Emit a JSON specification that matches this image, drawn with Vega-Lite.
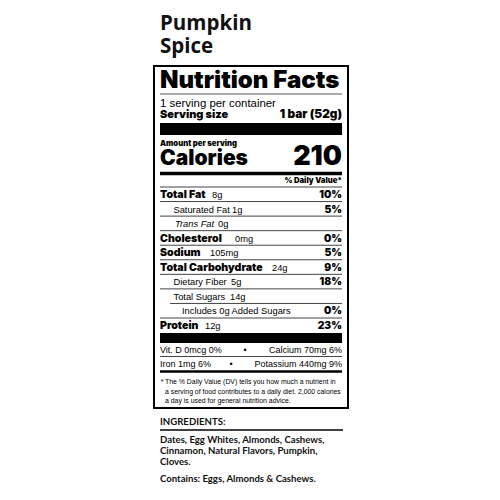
{
  "$schema": "https://vega.github.io/schema/vega-lite/v6.json",
  "width": 194,
  "height": 342,
  "autosize": {"type": "none"},
  "padding": {"left": 154, "top": 66, "right": 152, "bottom": 92},
  "background": "white",
  "view": {"stroke": "#000", "strokeWidth": 2},
  "datasets": {
    "label": [
      {"line": -1, "part": "product", "text": "Pumpkin"},
      {"line": 0, "part": "product", "text": "Spice"},
      {"line": 1, "part": "heading", "text": "Nutrition Facts"},
      {"line": 2, "part": "servings", "text": "1 serving per container"},
      {"line": 3, "part": "size", "text": "Serving size", "value": "1 bar (52g)"},
      {"line": 4, "part": "amountper", "text": "Amount per serving"},
      {"line": 5, "part": "calories", "text": "Calories", "value": "210"},
      {"line": 6, "part": "dvhead", "value": "% Daily Value*"},
      {"line": 17, "part": "vitamin", "text": "Vit. D 0mcg 0%", "value": "Calcium 70mg 6%"},
      {"line": 18, "part": "vitamin", "text": "Iron 1mg 6%", "value": "Potassium 440mg 9%"},
      {"line": 19, "part": "note", "marker": "*", "text": "The % Daily Value (DV) tells you how much a nutrient in"},
      {"line": 20, "part": "note", "text": "a serving of food contributes to a daily diet. 2,000 calories"},
      {"line": 21, "part": "note", "text": "a day is used for general nutrition advice."},
      {"line": 22, "part": "ingredientshead", "text": "INGREDIENTS:"},
      {"line": 23, "part": "ingredients", "text": "Dates, Egg Whites, Almonds, Cashews,"},
      {"line": 24, "part": "ingredients", "text": "Cinnamon, Natural Flavors, Pumpkin,"},
      {"line": 25, "part": "ingredients", "text": "Cloves."},
      {"line": 26, "part": "ingredients", "text": "Contains: Eggs, Almonds & Cashews."}
    ],
    "nutrients": [
      {"line": 7, "name": "Total Fat", "amount": "8g", "dv": "10%", "level": 0},
      {"line": 8, "name": "Saturated Fat", "amount": "1g", "dv": "5%", "level": 1},
      {"line": 9, "name": "Trans Fat", "amount": "0g", "dv": "", "level": 1},
      {"line": 10, "name": "Cholesterol", "amount": "0mg", "dv": "0%", "level": 0},
      {"line": 11, "name": "Sodium", "amount": "105mg", "dv": "5%", "level": 0},
      {"line": 12, "name": "Total Carbohydrate", "amount": "24g", "dv": "9%", "level": 0},
      {"line": 13, "name": "Dietary Fiber", "amount": "5g", "dv": "18%", "level": 1},
      {"line": 14, "name": "Total Sugars", "amount": "14g", "dv": "", "level": 1},
      {"line": 15, "name": "Includes 0g Added Sugars", "amount": "", "dv": "0%", "level": 2},
      {"line": 16, "name": "Protein", "amount": "12g", "dv": "23%", "level": 0}
    ]
  },
  "encoding": {
    "y": {
      "field": "line",
      "type": "quantitative",
      "axis": null,
      "scale": {
        "zero": false,
        "nice": false,
        "domain": [-1, 0, 1, 2, 3, 4, 5, 6, 7, 16, 17, 18, 19, 21, 22, 23, 25, 26],
        "range": [-36, -13, 22, 41, 52, 80, 99, 117, 132, 263, 287, 301, 318, 337, 359, 377, 399, 416]
      }
    }
  },
  "layer": [
    {
      "data": {"name": "label"},
      "transform": [{"filter": "datum.part == 'product'"}],
      "mark": {"type": "text", "font": "Open Sans", "fontWeight": 700, "fontSize": 20.5, "align": "left", "baseline": "alphabetic", "color": "#111"},
      "encoding": {
        "x": {"datum": 0, "type": "quantitative", "axis": null, "scale": {"domain": [0, 1], "range": [6, 188]}},
        "text": {"field": "text"}
      }
    },
    {
      "data": {"name": "label"},
      "transform": [{"filter": "datum.part == 'heading'"}],
      "mark": {"type": "text", "font": "Inter", "fontWeight": 900, "fontSize": 24, "align": "left", "baseline": "alphabetic", "color": "#000"},
      "encoding": {
        "x": {"datum": 0, "type": "quantitative", "axis": null, "scale": {"domain": [0, 1], "range": [6, 188]}},
        "text": {"field": "text"}
      }
    },
    {
      "data": {"name": "label"},
      "transform": [{"filter": "datum.part == 'servings'"}],
      "mark": {"type": "text", "font": "Liberation Sans", "fontSize": 11.4, "align": "left", "baseline": "alphabetic", "color": "#000"},
      "encoding": {
        "x": {"datum": 0, "type": "quantitative", "axis": null, "scale": {"domain": [0, 1], "range": [6, 188]}},
        "text": {"field": "text"}
      }
    },
    {
      "data": {"name": "label"},
      "transform": [{"filter": "datum.part == 'size'"}],
      "mark": {"type": "text", "font": "Inter", "fontWeight": 900, "fontSize": 11, "align": "left", "baseline": "alphabetic", "color": "#000"},
      "encoding": {
        "x": {"datum": 0, "type": "quantitative", "axis": null, "scale": {"domain": [0, 1], "range": [6, 188]}},
        "text": {"field": "text"}
      }
    },
    {
      "data": {"name": "label"},
      "transform": [{"filter": "datum.part == 'size'"}],
      "mark": {"type": "text", "font": "Inter", "fontWeight": 900, "fontSize": 11.8, "align": "right", "baseline": "alphabetic", "color": "#000"},
      "encoding": {
        "x": {"datum": 1, "type": "quantitative", "axis": null, "scale": {"domain": [0, 1], "range": [6, 188]}},
        "text": {"field": "value"}
      }
    },
    {
      "data": {"name": "label"},
      "transform": [{"filter": "datum.part == 'amountper'"}],
      "mark": {"type": "text", "font": "Inter", "fontWeight": 900, "fontSize": 7.7, "align": "left", "baseline": "alphabetic", "color": "#000"},
      "encoding": {
        "x": {"datum": 0, "type": "quantitative", "axis": null, "scale": {"domain": [0, 1], "range": [6, 188]}},
        "text": {"field": "text"}
      }
    },
    {
      "data": {"name": "label"},
      "transform": [{"filter": "datum.part == 'calories'"}],
      "mark": {"type": "text", "font": "Inter", "fontWeight": 900, "fontSize": 21, "align": "left", "baseline": "alphabetic", "color": "#000"},
      "encoding": {
        "x": {"datum": 0, "type": "quantitative", "axis": null, "scale": {"domain": [0, 1], "range": [6, 188]}},
        "text": {"field": "text"}
      }
    },
    {
      "data": {"name": "label"},
      "transform": [{"filter": "datum.part == 'calories'"}],
      "mark": {"type": "text", "font": "Inter", "fontWeight": 900, "fontSize": 27, "align": "right", "baseline": "alphabetic", "color": "#000"},
      "encoding": {
        "x": {"datum": 1, "type": "quantitative", "axis": null, "scale": {"domain": [0, 1], "range": [6, 188]}},
        "text": {"field": "value"}
      }
    },
    {
      "data": {"name": "label"},
      "transform": [{"filter": "datum.part == 'dvhead'"}],
      "mark": {"type": "text", "font": "Inter", "fontWeight": 900, "fontSize": 7.7, "align": "right", "baseline": "alphabetic", "color": "#000"},
      "encoding": {
        "x": {"datum": 1, "type": "quantitative", "axis": null, "scale": {"domain": [0, 1], "range": [6, 188]}},
        "text": {"field": "value"}
      }
    },
    {
      "data": {"name": "label"},
      "transform": [{"filter": "datum.part == 'heading'"}],
      "mark": {"type": "rule", "strokeWidth": 1, "color": "#555", "yOffset": 6},
      "encoding": {
        "x": {"datum": 0, "type": "quantitative", "axis": null, "scale": {"domain": [0, 1], "range": [6, 188]}},
        "x2": {"datum": 1}
      }
    },
    {
      "data": {"name": "label"},
      "transform": [{"filter": "datum.part == 'size'"}],
      "mark": {"type": "rule", "strokeWidth": 12, "color": "#000", "yOffset": 11},
      "encoding": {
        "x": {"datum": 0, "type": "quantitative", "axis": null, "scale": {"domain": [0, 1], "range": [6, 188]}},
        "x2": {"datum": 1}
      }
    },
    {
      "data": {"name": "label"},
      "transform": [{"filter": "datum.part == 'calories'"}],
      "mark": {"type": "rule", "strokeWidth": 3.5, "color": "#000", "yOffset": 8.5},
      "encoding": {
        "x": {"datum": 0, "type": "quantitative", "axis": null, "scale": {"domain": [0, 1], "range": [6, 188]}},
        "x2": {"datum": 1}
      }
    },
    {
      "data": {"name": "nutrients"},
      "mark": {"type": "rule", "strokeWidth": 1, "color": "#444", "yOffset": -11},
      "encoding": {
        "x": {"field": "level", "type": "quantitative", "axis": null, "scale": {"domain": [0, 1, 2, 3], "range": [6, 6, 16, 188]}},
        "x2": {"datum": 3}
      }
    },
    {
      "data": {"name": "nutrients"},
      "transform": [{"filter": "datum.name == 'Protein'"}],
      "mark": {"type": "rule", "strokeWidth": 10, "color": "#000", "yOffset": 9},
      "encoding": {
        "x": {"datum": 0, "type": "quantitative", "axis": null, "scale": {"domain": [0, 1], "range": [6, 188]}},
        "x2": {"datum": 1}
      }
    },
    {
      "data": {"name": "nutrients"},
      "transform": [{"filter": "datum.level == 0"}],
      "mark": {"type": "text", "font": "Inter", "fontWeight": 900, "fontSize": 10.6, "align": "left", "baseline": "alphabetic", "color": "#000"},
      "encoding": {
        "x": {"datum": 0, "type": "quantitative", "axis": null, "scale": {"domain": [0, 1], "range": [6, 188]}},
        "text": {"field": "name"}
      }
    },
    {
      "data": {"name": "nutrients"},
      "transform": [{"filter": "datum.level > 0 && datum.name != 'Trans Fat'"}],
      "mark": {"type": "text", "font": "Liberation Sans", "fontSize": 9.3, "align": "left", "baseline": "alphabetic", "color": "#000"},
      "encoding": {
        "x": {"field": "level", "type": "quantitative", "axis": null, "scale": {"domain": [0, 1, 2], "range": [6, 19.5, 28]}},
        "text": {"field": "name"}
      }
    },
    {
      "data": {"name": "nutrients"},
      "transform": [{"filter": "datum.name == 'Trans Fat'"}],
      "mark": {"type": "text", "font": "Liberation Sans", "fontStyle": "italic", "fontSize": 9.3, "align": "left", "baseline": "alphabetic", "color": "#000"},
      "encoding": {
        "x": {"field": "level", "type": "quantitative", "axis": null, "scale": {"domain": [0, 1, 2], "range": [6, 21, 28]}},
        "text": {"field": "name"}
      }
    },
    {
      "data": {"name": "nutrients"},
      "transform": [{"filter": "datum.amount != ''"}],
      "mark": {"type": "text", "font": "Liberation Sans", "fontSize": 9.3, "align": "left", "baseline": "alphabetic", "color": "#000"},
      "encoding": {
        "x": {"field": "line", "type": "quantitative", "axis": null, "scale": {"domain": [7, 8, 9, 10, 11, 12, 13, 14, 16], "range": [58, 78, 64, 81, 56, 118, 77, 76, 51]}},
        "text": {"field": "amount"}
      }
    },
    {
      "data": {"name": "nutrients"},
      "mark": {"type": "text", "font": "Inter", "fontWeight": 900, "fontSize": 10.3, "align": "right", "baseline": "alphabetic", "color": "#000"},
      "encoding": {
        "x": {"datum": 1, "type": "quantitative", "axis": null, "scale": {"domain": [0, 1], "range": [6, 188]}},
        "text": {"field": "dv"}
      }
    },
    {
      "data": {"name": "label"},
      "transform": [{"filter": "datum.part == 'vitamin'"}],
      "mark": {"type": "text", "font": "Liberation Sans", "fontSize": 9, "align": "left", "baseline": "alphabetic", "color": "#000"},
      "encoding": {
        "x": {"datum": 0, "type": "quantitative", "axis": null, "scale": {"domain": [0, 1], "range": [6, 188]}},
        "text": {"field": "text"}
      }
    },
    {
      "data": {"name": "label"},
      "transform": [{"filter": "datum.part == 'vitamin'"}],
      "mark": {"type": "text", "font": "Liberation Sans", "fontSize": 9, "align": "right", "baseline": "alphabetic", "color": "#000"},
      "encoding": {
        "x": {"datum": 1, "type": "quantitative", "axis": null, "scale": {"domain": [0, 1], "range": [6, 188]}},
        "text": {"field": "value"}
      }
    },
    {
      "data": {"name": "label"},
      "transform": [{"filter": "datum.part == 'vitamin'"}],
      "mark": {"type": "text", "font": "Liberation Sans", "fontSize": 9, "align": "center", "baseline": "alphabetic", "color": "#000"},
      "encoding": {
        "x": {"field": "line", "type": "quantitative", "axis": null, "scale": {"domain": [17, 18], "range": [91, 77]}},
        "text": {"value": "\u2022"}
      }
    },
    {
      "data": {"name": "label"},
      "transform": [{"filter": "datum.line == 17"}],
      "mark": {"type": "rule", "strokeWidth": 1, "color": "#444", "yOffset": 3.5},
      "encoding": {
        "x": {"datum": 0, "type": "quantitative", "axis": null, "scale": {"domain": [0, 1], "range": [6, 188]}},
        "x2": {"datum": 1}
      }
    },
    {
      "data": {"name": "label"},
      "transform": [{"filter": "datum.line == 18"}],
      "mark": {"type": "rule", "strokeWidth": 2.5, "color": "#000", "yOffset": 4.5},
      "encoding": {
        "x": {"datum": 0, "type": "quantitative", "axis": null, "scale": {"domain": [0, 1], "range": [6, 188]}},
        "x2": {"datum": 1}
      }
    },
    {
      "data": {"name": "label"},
      "transform": [{"filter": "datum.part == 'note'"}],
      "mark": {"type": "text", "font": "Liberation Sans", "fontSize": 6.9, "align": "left", "baseline": "alphabetic", "color": "#000"},
      "encoding": {
        "x": {"datum": 0, "type": "quantitative", "axis": null, "scale": {"domain": [0, 1], "range": [11, 188]}},
        "text": {"field": "text"}
      }
    },
    {
      "data": {"name": "label"},
      "transform": [{"filter": "datum.marker"}],
      "mark": {"type": "text", "font": "Liberation Sans", "fontSize": 6.9, "align": "right", "baseline": "alphabetic", "color": "#000", "dx": -1.5},
      "encoding": {
        "x": {"datum": 0, "type": "quantitative", "axis": null, "scale": {"domain": [0, 1], "range": [11, 188]}},
        "text": {"field": "marker"}
      }
    },
    {
      "data": {"name": "label"},
      "transform": [{"filter": "datum.part == 'ingredientshead' || datum.part == 'ingredients'"}],
      "mark": {"type": "text", "font": "Lato", "fontWeight": 700, "fontSize": 9.6, "align": "left", "baseline": "alphabetic", "color": "#111"},
      "encoding": {
        "x": {"datum": 0, "type": "quantitative", "axis": null, "scale": {"domain": [0, 1], "range": [6, 188]}},
        "text": {"field": "text"}
      }
    },
    {
      "data": {"name": "label"},
      "transform": [{"filter": "datum.part == 'ingredientshead'"}],
      "mark": {"type": "rule", "strokeWidth": 1.5, "color": "#000", "yOffset": 5},
      "encoding": {
        "x": {"datum": 0, "type": "quantitative", "axis": null, "scale": {"domain": [0, 1], "range": [6, 189]}},
        "x2": {"datum": 1}
      }
    }
  ],
  "resolve": {"scale": {"x": "independent"}}
}
